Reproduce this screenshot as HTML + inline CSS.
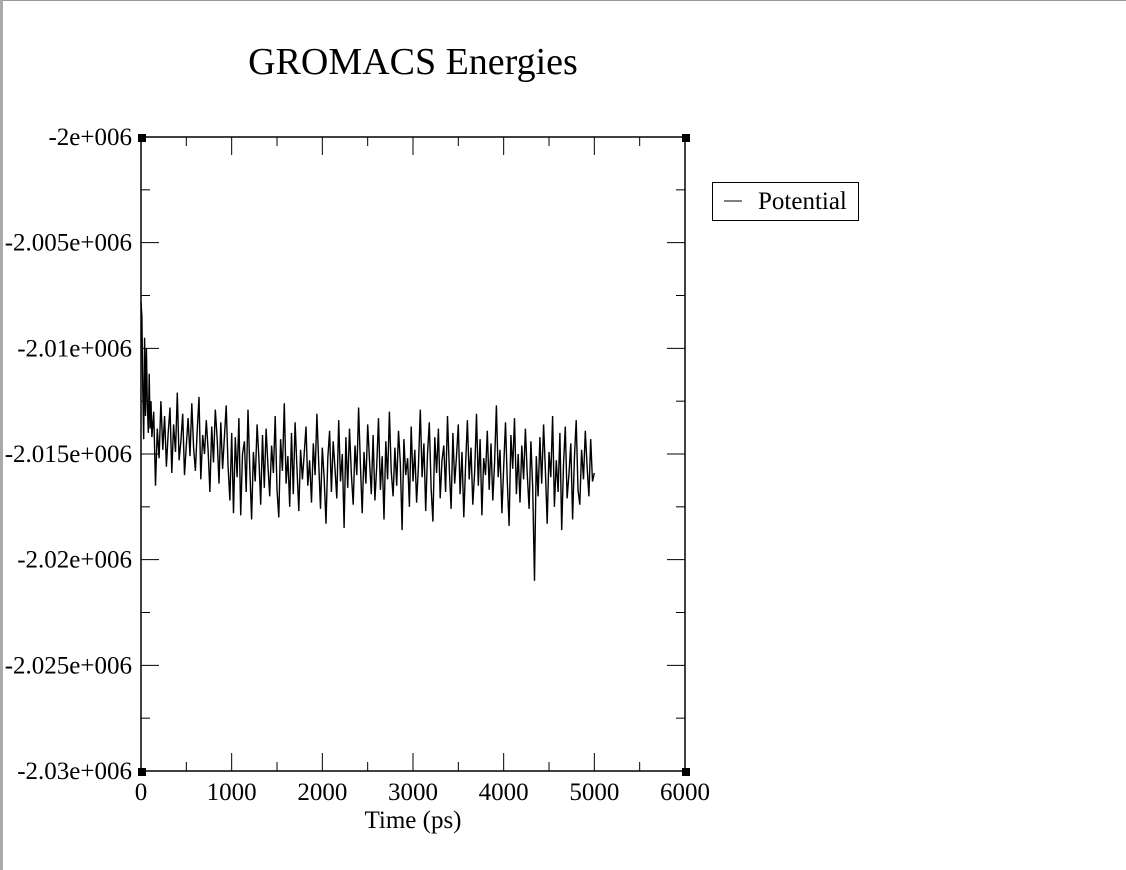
<!DOCTYPE html>
<html><head><meta charset="utf-8"><style>
html,body{margin:0;padding:0;background:#fff;}
svg{display:block;font-family:"Liberation Serif",serif;}
</style></head><body>
<svg id="chart" width="1126" height="870">
<rect x="0" y="0" width="1126" height="1" fill="#999"/>
<rect x="0" y="0" width="3" height="870" fill="#aaa"/>
<text x="413" y="74" font-size="38" text-anchor="middle">GROMACS Energies</text>
<g id="axes"></g>
<path id="series" fill="none" stroke="#000" stroke-width="1.4"/>
<g>
<rect x="712.5" y="182.5" width="146" height="38" fill="#fff" stroke="#000"/>
<line x1="724" y1="201" x2="742" y2="201" stroke="#000"/>
<text x="758" y="209" font-size="25">Potential</text>
</g>
<text x="413" y="828" font-size="25" text-anchor="middle">Time (ps)</text>
</svg>
<script>
const xTicks = [0,1000,2000,3000,4000,5000,6000];
const yTicks = [-2000000,-2005000,-2010000,-2015000,-2020000,-2025000,-2030000];
const yTickLabels = ["-2e+006","-2.005e+006","-2.01e+006","-2.015e+006","-2.02e+006","-2.025e+006","-2.03e+006"];
const earlyTimes = [0,10,20,30,40,50,60,70,80,90,100,110];
const earlyOffsets = [7.8,8.5,12.0,14.3,9.5,13.2,10.0,12.6,14.0,11.2,13.8,12.5];
const midOffsets = [14.2,13.0,16.5,13.8,15.2,12.5,14.8,13.2,15.6,14.0,12.8,15.9,13.6,14.9,12.1,15.3,14.4,13.1,16.0,14.6,13.3,15.1,12.6,14.7,15.8,13.9,12.3,16.2,14.1,15.0,13.4,14.8,16.8,13.7,15.4,12.9,14.3,16.4,13.5,15.7,14.2,12.7,15.5,17.2,14.0];
const lateOffsets = [
17.8,14.2,16.1,13.3,17.9,15.0,14.4,16.8,12.9,15.7,18.1,14.9,16.3,13.6,15.2,17.4,14.1,16.6,13.8,15.5,
17.0,14.6,15.9,13.2,16.7,18.0,14.3,15.8,12.6,16.4,15.1,17.5,14.0,16.9,13.5,15.6,17.7,14.8,16.2,15.0,
13.7,16.5,15.3,17.3,14.5,16.0,13.1,15.4,17.6,14.7,16.1,18.3,15.2,13.9,16.8,14.4,15.7,17.1,13.4,16.3,
15.0,18.5,14.2,16.6,13.8,15.9,17.4,14.6,16.0,12.8,15.5,17.8,14.9,16.4,13.6,15.3,16.9,14.1,17.2,15.6,
13.3,16.7,15.1,18.1,14.4,16.2,13.0,15.8,17.0,14.7,16.5,13.9,15.4,18.6,14.3,16.0,15.2,17.5,13.7,16.3,
14.8,17.3,15.6,12.9,16.1,14.5,17.7,15.0,13.5,16.6,18.2,14.2,15.9,13.8,17.1,15.3,14.6,16.8,13.2,15.7,
17.6,14.0,16.4,15.1,13.6,16.9,14.9,18.0,15.5,13.4,16.2,14.7,17.4,15.8,13.1,16.5,14.3,17.9,15.2,16.0,
13.9,16.7,14.5,17.2,15.4,12.7,16.1,14.8,17.8,15.6,13.5,16.3,18.4,14.1,15.7,13.3,16.9,15.0,17.3,14.6,
16.2,13.8,15.9,17.6,14.4,16.6,21.0,15.1,17.0,14.2,16.4,13.6,15.8,18.3,14.9,16.1,13.2,17.5,15.3,16.8,
14.0,18.6,15.5,13.7,17.1,16.0,14.5,18.1,15.2,13.4,16.7,17.4,14.8,16.2,13.9,15.6,17.0,14.3,16.3,15.9];
const X0=141,X1=685,Y0=137,Y1=771;
const xMin=0,xMax=6000,yMax=-2000000,yMin=-2030000;
function sx(v){return X0+(v-xMin)/(xMax-xMin)*(X1-X0);}
function sy(v){return Y0+(yMax-v)/(yMax-yMin)*(Y1-Y0);}
const NS="http://www.w3.org/2000/svg";
const axes=document.getElementById('axes');
function mk(tag,attrs){const e=document.createElementNS(NS,tag);for(const k in attrs)e.setAttribute(k,attrs[k]);axes.appendChild(e);return e;}
let fr=mk('rect',{x:X0,y:Y0,width:X1-X0,height:Y1-Y0,fill:'none',stroke:'#000','stroke-width':1.5});


for(let i=0;i<xTicks.length;i++){
  const x=sx(xTicks[i]);
  for(const [ya,yb] of [[Y1,Y1-18],[Y0,Y0+18]]){
    const t=mk('line',{x1:x,x2:x,y1:ya,y2:yb,stroke:'#000'});
    
    
  }
  if(i<xTicks.length-1){
    const xm=sx((xTicks[i]+xTicks[i+1])/2);
    for(const [ya,yb] of [[Y1,Y1-9],[Y0,Y0+9]]){
      const t=mk('line',{x1:xm,x2:xm,y1:ya,y2:yb,stroke:'#000'});
      
      
    }
  }
  const lb=mk('text',{x:x,y:800,'font-size':25,'text-anchor':'middle'});
  lb.textContent=String(xTicks[i]);
  
  
}
for(let i=0;i<yTicks.length;i++){
  const y=sy(yTicks[i]);
  for(const [xa,xb] of [[X0,X0+18],[X1,X1-18]]){
    const t=mk('line',{x1:xa,x2:xb,y1:y,y2:y,stroke:'#000'});
    
    
  }
  if(i<yTicks.length-1){
    const ym=sy((yTicks[i]+yTicks[i+1])/2);
    for(const [xa,xb] of [[X0,X0+9],[X1,X1-9]]){
      const t=mk('line',{x1:xa,x2:xb,y1:ym,y2:ym,stroke:'#000'});
      
      
    }
  }
  const lb=mk('text',{x:132,y:y+8,'font-size':25,'text-anchor':'end'});
  lb.textContent=yTickLabels[i];
  
  
}
for(const [cx,cy] of [[X0,Y0],[X1,Y0],[X0,Y1],[X1,Y1]]){
  const c=mk('rect',{x:cx-3,y:cy-3,width:8,height:8,fill:'#000'});
  
  
}
const times=[],vals=[];
earlyTimes.forEach((t,i)=>{times.push(t);vals.push(-2000000-earlyOffsets[i]*1000);});
midOffsets.forEach((d,i)=>{times.push(120+i*20);vals.push(-2000000-d*1000);});
lateOffsets.forEach((d,i)=>{times.push(1020+i*20);vals.push(-2000000-d*1000);});
let dstr='';
for(let i=0;i<times.length;i++){dstr+=(i?'L':'M')+sx(times[i]).toFixed(1)+','+sy(vals[i]).toFixed(1);}
document.getElementById('series').setAttribute('d',dstr);
</script>
</body></html>
